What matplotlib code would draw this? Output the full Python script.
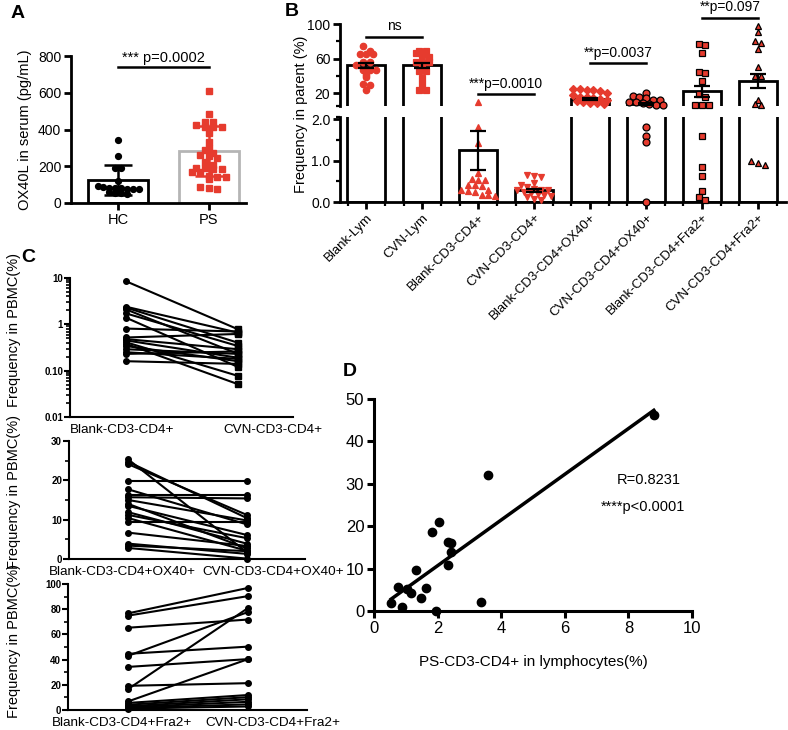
import numpy as np
import matplotlib
matplotlib.use('Agg')
from matplotlib import pyplot as plt
from matplotlib.ticker import FixedLocator, MultipleLocator, LogLocator, NullFormatter

plt.rcParams['font.family'] = ['Liberation Sans', 'DejaVu Sans']

# ---- panel A: serum OX40L ----
a_groups = ['HC', 'PS']
a_mean = [125, 281]
a_sd = [84, 136]
hc_vals = [343, 255, 193, 190, 121, 95, 85, 82, 80, 80, 78, 76, 75, 62, 55, 52, 48]
ps_vals = [612, 482, 441, 441, 425, 416, 413, 411, 382, 334, 300, 291, 271, 262, 255,
           246, 225, 209, 193, 193, 187, 184, 168, 168, 148, 139, 139, 132, 89, 84, 75]

# ---- panel B: frequency in parent ----
b_groups = ['Blank-Lym', 'CVN-Lym', 'Blank-CD3-CD4+', 'CVN-CD3-CD4+',
            'Blank-CD3-CD4+OX40+', 'CVN-CD3-CD4+OX40+',
            'Blank-CD3-CD4+Fra2+', 'CVN-CD3-CD4+Fra2+']
b_mean = [52, 52, 1.25, 0.28, 13, 7.2, 22, 34]
b_err = [3, 3, 0.47, 0.04, 1, 1.2, 6.5, 8]
b_points = [
    [74, 69, 65, 65, 65, 56, 56, 52, 47, 47, 47, 41, 39, 31, 29, 23],
    [69, 69, 66, 64, 62, 56, 56, 56, 50, 46, 46, 37, 30, 24, 24],
    [2.4, 1.82, 1.43, 0.69, 0.55, 0.53, 0.53, 0.42, 0.40, 0.38, 0.30, 0.28, 0.26,
     0.25, 0.18, 0.16, 0.15],
    [0.65, 0.62, 0.6, 0.45, 0.42, 0.35, 0.32, 0.3, 0.3, 0.28, 0.25, 0.22, 0.2, 0.18,
     0.15, 0.12, 0.08, 0.05],
    [25, 25, 24, 23, 22, 20, 18, 16, 15, 14, 13, 12, 11, 10, 9, 8, 7],
    [20, 17, 16, 14, 12, 12, 10, 10, 8, 7, 6, 6, 1.8, 1.6, 1.45, 0.0],
    [76.8, 75.7, 66, 44.7, 42.8, 34.3, 18.5, 15.7, 6, 6, 6, 1.59, 0.85, 0.63, 0.27,
     0.13, 0.05],
    [97.7, 90.4, 80.6, 77.6, 70.6, 50.5, 39.7, 39.7, 12, 7, 6, 1.0, 0.95, 0.9],
]
b_sig = [('ns', 0, 1, 85), ('***p=0.0010', 2, 3, 18.8),
         ('**p=0.0037', 4, 5, 54.8), ('**p=0.097', 6, 7, 107)]

# ---- panel C: paired PBMC frequencies ----
c1_blank = [8.5, 2.4, 2.3, 2.1, 1.72, 1.39, 0.81, 0.52, 0.48, 0.45, 0.41, 0.38, 0.34,
            0.29, 0.25, 0.23, 0.16]
c1_cvn = [0.78, 0.66, 0.40, 0.23, 0.34, 0.12, 0.70, 0.62, 0.29, 0.19, 0.077, 0.051,
          0.16, 0.23, 0.18, 0.26, 0.14]
c2_blank = [25.3, 24.7, 24.1, 19.8, 17.7, 16.2, 15.7, 15.0, 14.0, 13.5, 11.9, 11.2,
            10.4, 9.3, 6.7, 3.9, 3.4, 2.8]
c2_cvn = [1.7, 10.4, 11.2, 19.8, 8.8, 16.2, 15.4, 9.8, 2.7, 6.1, 3.9, 5.3, 2.1, 9.3,
          3.3, 1.3, 2.0, 0.1]
c3_blank = [76.7, 74.9, 65.3, 44.6, 43.0, 34.2, 19.2, 16.6, 6.8, 5.6, 4.2, 3.0, 2.2,
            1.5, 1.1]
c3_cvn = [96.9, 90.4, 71.8, 50.3, 77.8, 40.4, 21.3, 81.0, 40.4, 11.9, 10.2, 8.5, 6.5,
          4.5, 2.8]
c_labels = [('Blank-CD3-CD4+', 'CVN-CD3-CD4+'),
            ('Blank-CD3-CD4+OX40+', 'CVN-CD3-CD4+OX40+'),
            ('Blank-CD3-CD4+Fra2+', 'CVN-CD3-CD4+Fra2+')]

# ---- panel D: correlation ----
d_x = [0.54, 0.87, 0.77, 1.03, 1.17, 1.32, 1.47, 1.62, 1.83, 1.96, 2.04, 2.32, 2.43,
       2.41, 2.34, 3.36, 3.57, 8.8]
d_y = [1.8, 0.9, 5.7, 5.2, 4.2, 9.7, 3.1, 5.4, 18.6, 0.1, 21.0, 16.2, 16.0, 14.0,
       10.9, 2.1, 32.0, 46.2]

RED = '#e63b2e'
W, H = 788, 730
fig = plt.figure(figsize=(W / 100, H / 100), dpi=100)


def box(l, t, r, b):
    # pixel box (left, top, right, bottom) -> axes
    return fig.add_axes([l / W, 1 - b / H, (r - l) / W, (b - t) / H])


def style(ax, lw=2):
    for s in ['top', 'right']:
        ax.spines[s].set_visible(False)
    for s in ['left', 'bottom']:
        ax.spines[s].set_linewidth(lw)
    ax.tick_params(width=lw, length=5, labelsize=10, pad=2)
    ax.tick_params(which='minor', width=lw * 0.8, length=3)


def swarm(ax, x0, vals, bin_px=6, step=0.12):
    vals = np.asarray(vals, dtype=float)
    pix = ax.transData.transform(np.column_stack([np.zeros(len(vals)), vals]))[:, 1]
    keys = np.floor(pix / bin_px)
    off = np.zeros(len(vals))
    for k in np.unique(keys):
        idx = np.where(keys == k)[0]
        off[idx] = (np.arange(len(idx)) - (len(idx) - 1) / 2) * step
    return x0 + off


# ================= A =================
axA = box(71, 56, 246, 203)
style(axA)
axA.set_xlim(-0.52, 1.41)
axA.set_ylim(0, 800)
axA.set_yticks([0, 200, 400, 600, 800])
axA.set_xticks([0, 1])
axA.set_xticklabels(a_groups, fontsize=10.5)
axA.bar([0], [a_mean[0]], width=0.66, color='white', edgecolor='black', lw=2, zorder=1)
axA.bar([1], [a_mean[1]], width=0.66, color='white', edgecolor='#b5b5b5', lw=2, zorder=1)
axA.errorbar([0], [a_mean[0]], yerr=[a_sd[0]], color='black', capsize=10, lw=1.8,
             capthick=1.8, zorder=2)
axA.errorbar([1], [a_mean[1]], yerr=[a_sd[1]], color=RED, capsize=10, lw=1.8,
             capthick=1.8, zorder=2)
axA.plot(swarm(axA, 0, hc_vals, 5, 0.065), hc_vals, 'o', color='black', ms=4.2, zorder=3)
axA.plot(swarm(axA, 1, ps_vals, 6, 0.095), ps_vals, 's', color=RED, ms=4.2, zorder=3)
axA.plot([0, 1], [740, 740], color='black', lw=1.8, clip_on=False)
axA.text(0.5, 752, '*** p=0.0002', ha='center', va='bottom', fontsize=10.5)
axA.set_ylabel('OX40L in serum (pg/mL)', fontsize=10.5, labelpad=4)
fig.text(18 / W, 1 - 13 / H, 'A', fontsize=14, fontweight='bold', va='center', ha='center')

# ================= B =================
axBu = box(340, 24, 786, 106)
axBl = box(340, 117, 786, 202)
for ax in (axBu, axBl):
    style(ax)
    ax.set_xlim(-0.47, 7.5)
axBu.spines['bottom'].set_visible(False)
axBu.set_xticks([])
axBu.set_ylim(5, 100)
axBu.set_yticks([20, 60, 100])
axBu.yaxis.set_minor_locator(FixedLocator([5, 40, 80]))
axBl.set_ylim(0, 2.05)
axBl.set_yticks([0, 1, 2])
axBl.set_yticklabels(['0.0', '1.0', '2.0'])
axBl.yaxis.set_minor_locator(FixedLocator([0.5, 1.5, 2.05]))
axBl.xaxis.set_minor_locator(MultipleLocator(1 / 3))
axBl.set_xticks(range(len(b_groups)))
axBl.set_xticklabels(b_groups, rotation=45, ha='right', rotation_mode='anchor',
                     fontsize=9.5)

b_markers = ['o', 's', '^', 'v', 'D', 'o', 's', '^']
b_edge = [RED, RED, RED, RED, RED, 'black', 'black', 'black']
b_ms = [4.6, 4.4, 4.6, 4.6, 3.6, 5, 5, 5]
xs = np.arange(len(b_groups))
for ax in (axBu, axBl):
    ax.bar(xs, b_mean, width=0.68, color='white', edgecolor='black', lw=2, zorder=1)
    ax.errorbar(xs, b_mean, yerr=b_err, fmt='none', ecolor='black', capsize=6, lw=1.6,
                capthick=1.6, zorder=4)
for i, pts in enumerate(b_points):
    pts = np.asarray(pts)
    hi = pts[pts >= 5]
    lo = pts[pts < 5]
    if len(hi):
        axBu.plot(swarm(axBu, i, hi, 6, 0.12), hi, b_markers[i], color=RED,
                  mec=b_edge[i], mew=0.9, ms=b_ms[i], zorder=3, clip_on=False)
    if len(lo):
        axBl.plot(swarm(axBl, i, lo, 6, 0.12), lo, b_markers[i], color=RED,
                  mec=b_edge[i], mew=0.9, ms=b_ms[i], zorder=3, clip_on=False)
for label, i, j, y in b_sig:
    axBu.plot([i, j], [y, y], color='black', lw=1.8, clip_on=False)
    axBu.annotate(label, ((i + j) / 2, y), xytext=(0, 2.5), textcoords='offset points',
                  ha='center', va='bottom', fontsize=10, annotation_clip=False)
fig.text(301 / W, 1 - 114 / H, 'Frequency in parent (%)', rotation=90, fontsize=10.5,
         ha='center', va='center')
fig.text(292 / W, 1 - 12 / H, 'B', fontsize=14, fontweight='bold', va='center', ha='center')

# ================= C =================
c_boxes = [(70, 278, 293, 417), (69, 441, 305, 559), (68, 584, 307, 710)]
c_data = [(c1_blank, c1_cvn), (c2_blank, c2_cvn), (c3_blank, c3_cvn)]
c_right_marker = ['s', 'o', 'o']
c_label_base = [433, 575, 726]
c_ylabel_mid = [330, 492, 641]
for k, (l, t, r, b) in enumerate(c_boxes):
    ax = box(l, t, r, b)
    style(ax, lw=1.5)
    ax.set_xlim(-0.5, 1.49)
    ax.set_xticks([])
    left, right = c_data[k]
    for a, c in zip(left, right):
        ax.plot([0, 1], [a, c], color='black', lw=1.5, zorder=2)
    ax.plot(np.zeros(len(left)), left, 'o', color='black', ms=4, zorder=3, clip_on=False)
    ax.plot(np.ones(len(right)), right, c_right_marker[k], color='black',
            ms=4.5 if k == 0 else 4, zorder=3, clip_on=False)
    if k == 0:
        ax.set_yscale('log')
        ax.set_ylim(0.01, 10)
        ax.yaxis.set_major_locator(FixedLocator([0.01, 0.1, 1, 10]))
        ax.set_yticklabels(['0.01', '0.10', '1', '10'])
        ax.yaxis.set_minor_locator(LogLocator(base=10, subs=np.arange(2, 10)))
        ax.yaxis.set_minor_formatter(NullFormatter())
    elif k == 1:
        ax.set_ylim(0, 30)
        ax.set_yticks([0, 10, 20, 30])
        ax.yaxis.set_minor_locator(MultipleLocator(5))
    else:
        ax.set_ylim(0, 100)
        ax.set_yticks([0, 20, 40, 60, 80, 100])
        ax.yaxis.set_minor_locator(MultipleLocator(10))
    ax.tick_params(axis='y', labelsize=7, length=4, pad=1)
    for lab in ax.get_yticklabels():
        lab.set_fontweight('bold')
    ax.set_ylabel('Frequency in PBMC(%)', fontsize=10.5)
    ax.yaxis.set_label_coords((21 - l) / (r - l), (b - c_ylabel_mid[k]) / (b - t))
    yb = (b - c_label_base[k]) / (b - t)
    ax.text((122 - l) / (r - l), yb, c_labels[k][0], transform=ax.transAxes,
            ha='center', va='baseline', fontsize=9.7)
    ax.text((273 - l) / (r - l), yb, c_labels[k][1], transform=ax.transAxes,
            ha='center', va='baseline', fontsize=9.7)
fig.text(28 / W, 1 - 258 / H, 'C', fontsize=14, fontweight='bold', va='center', ha='center')

# ================= D =================
axD = box(374, 399, 692, 611)
style(axD, lw=2.2)
axD.set_xlim(0, 10)
axD.set_ylim(0, 50)
axD.set_xticks([0, 2, 4, 6, 8, 10])
axD.set_yticks([0, 10, 20, 30, 40, 50])
axD.tick_params(labelsize=12)
axD.plot(d_x, d_y, 'o', color='black', ms=6, clip_on=False, zorder=3)
slope, icept = np.polyfit(d_x, d_y, 1)
fx = np.array([min(d_x), max(d_x)])
axD.plot(fx, slope * fx + icept, color='black', lw=2.5, zorder=2)
axD.text(0.865, 0.62, 'R=0.8231', transform=axD.transAxes, ha='center', va='center',
         fontsize=10.5)
axD.text(0.847, 0.49, '****p<0.0001', transform=axD.transAxes, ha='center',
         va='center', fontsize=10.5)
axD.set_xlabel('PS-CD3-CD4+ in lymphocytes(%)', fontsize=11, labelpad=14)
fig.text(350 / W, 1 - 372 / H, 'D', fontsize=14, fontweight='bold', va='center', ha='center')

fig.savefig('out.png', dpi=100)
